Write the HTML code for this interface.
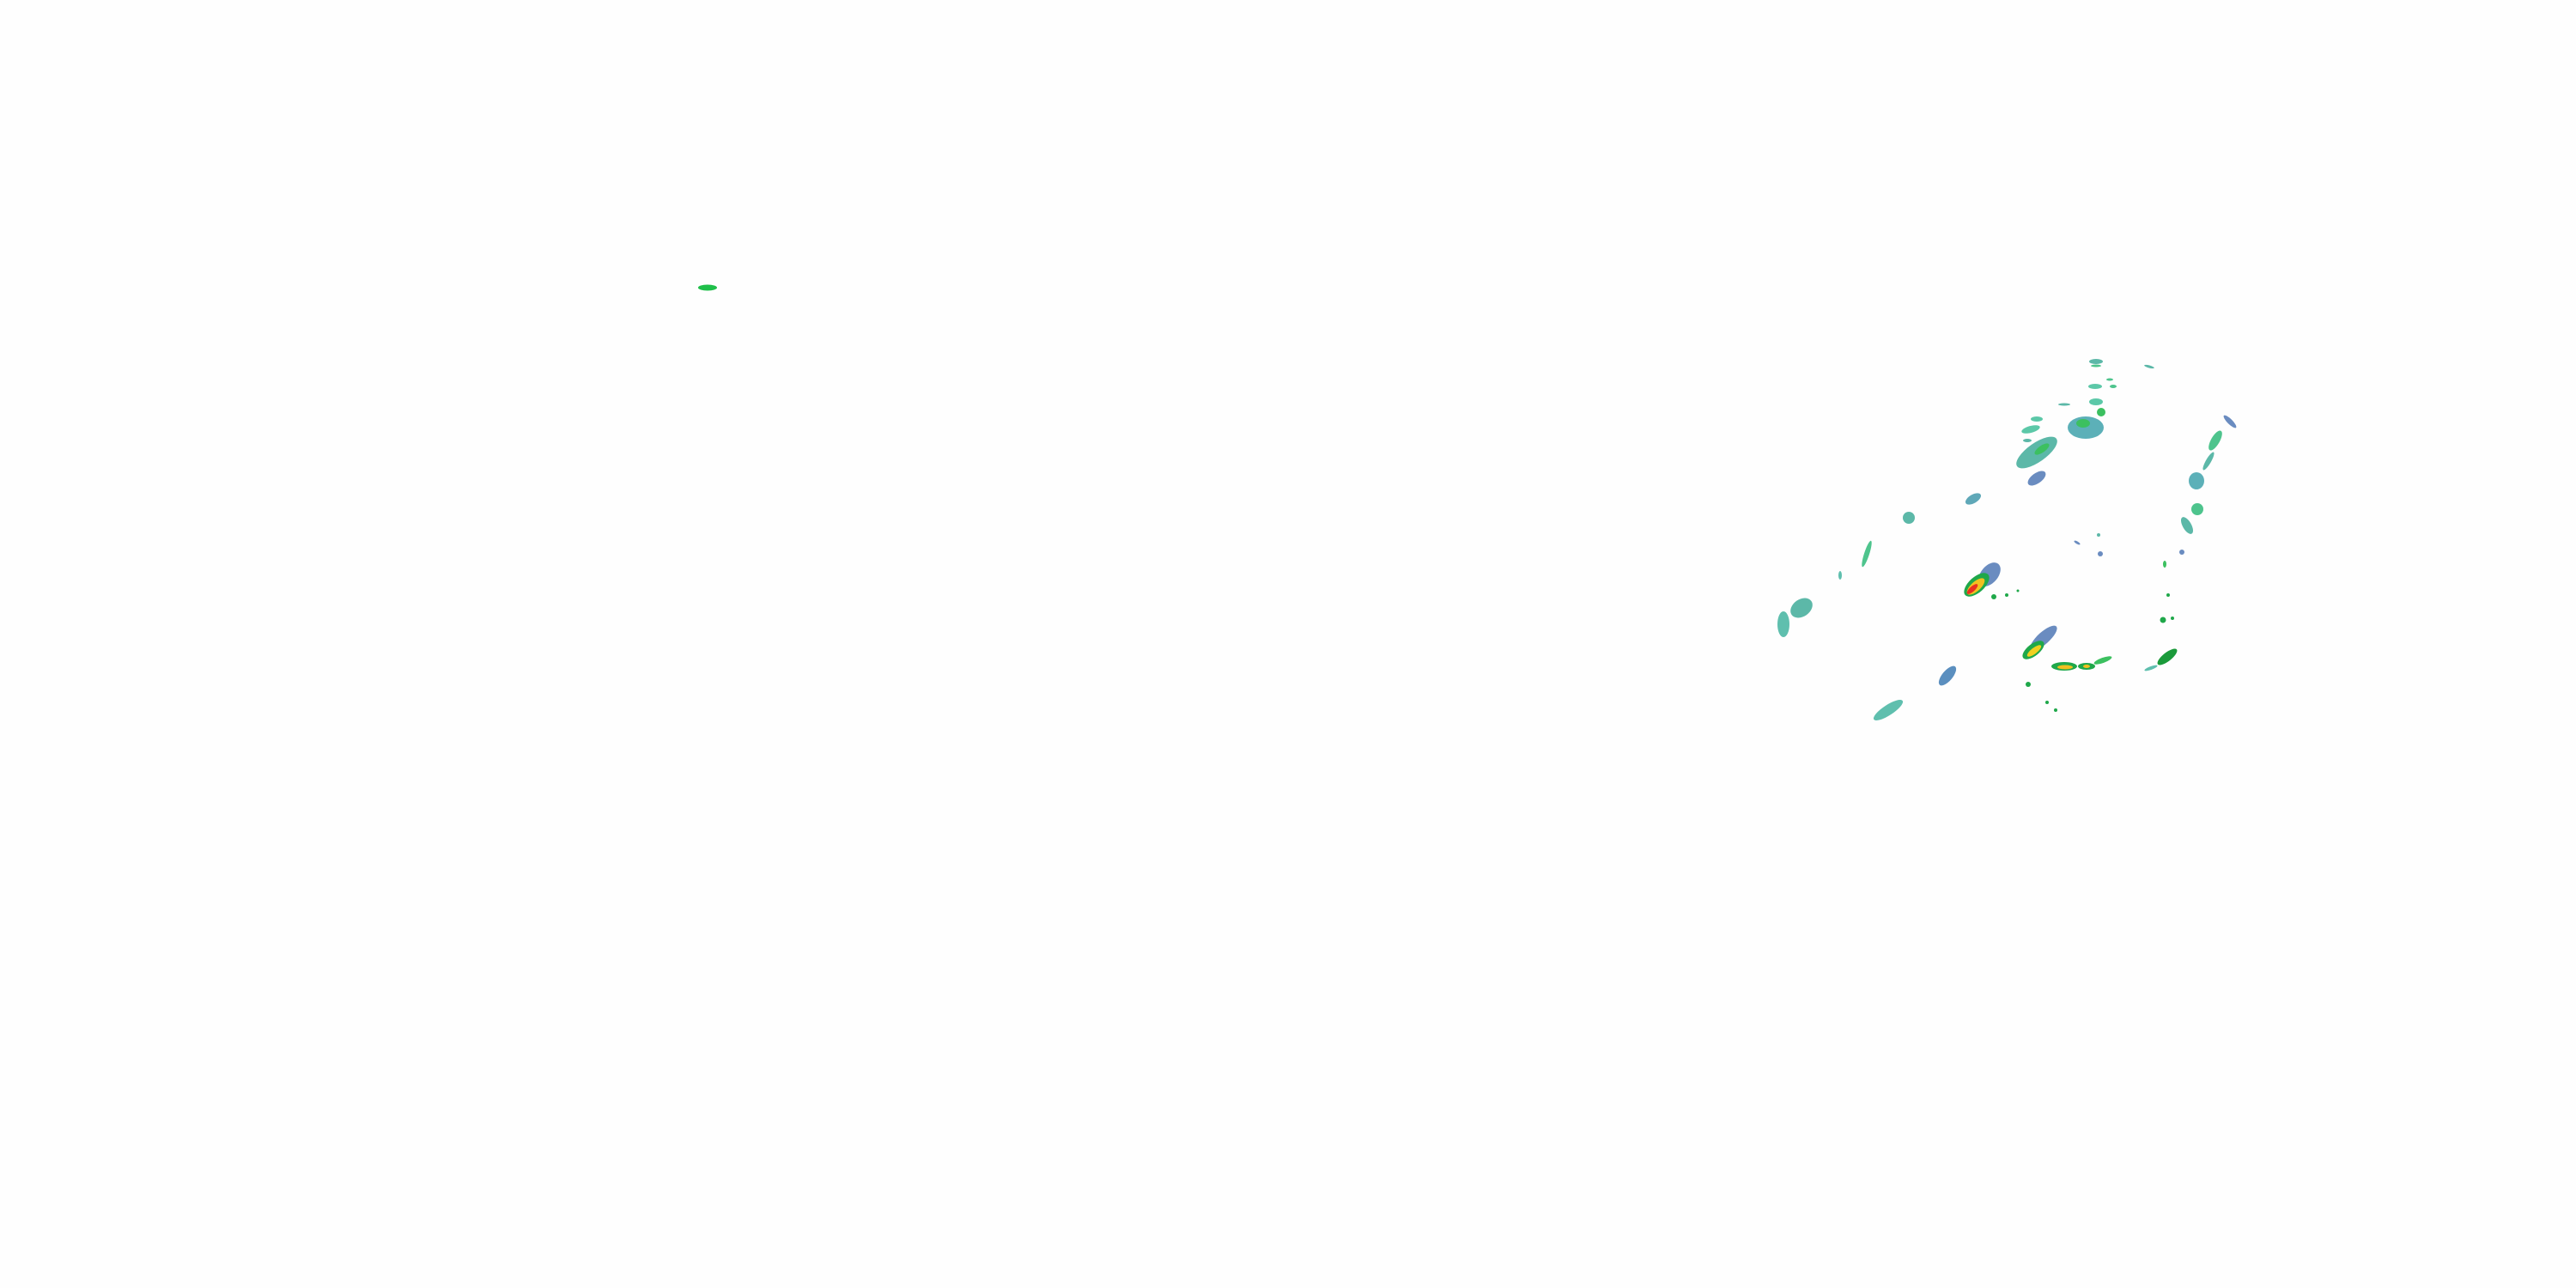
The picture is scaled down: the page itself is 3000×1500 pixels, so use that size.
<!DOCTYPE html>
<html><head><meta charset="utf-8"><style>html,body{margin:0;padding:0;background:#fff;width:3000px;height:1500px;overflow:hidden}</style></head>
<body>
<svg width="3000" height="1500" xmlns="http://www.w3.org/2000/svg">
<rect width="3000" height="1500" fill="#fefefe"/>
<ellipse cx="824" cy="335" rx="11" ry="3.5" fill="#1fbf4a"/>
<!-- left blobs -->
<ellipse cx="2077" cy="727" rx="7" ry="15" fill="#5fbfae"/>
<ellipse cx="2098" cy="708" rx="14" ry="10" fill="#5cb8a8" transform="rotate(-35 2098 708)"/>
<ellipse cx="2174" cy="645" rx="3" ry="16" fill="#4ec48d" transform="rotate(18 2174 645)"/>
<ellipse cx="2143" cy="670" rx="2" ry="5" fill="#5fbfae"/>
<ellipse cx="2223" cy="603" rx="7" ry="7" fill="#5cb8a8"/>
<ellipse cx="2298" cy="581" rx="10" ry="5" fill="#5fa8b8" transform="rotate(-30 2298 581)"/>
<ellipse cx="2268" cy="787" rx="6" ry="14" fill="#5b8fbf" transform="rotate(40 2268 787)"/>
<ellipse cx="2199" cy="827" rx="6" ry="20" fill="#5fbfae" transform="rotate(57 2199 827)"/>
<!-- red cell -->
<ellipse cx="2317" cy="669" rx="10" ry="16" fill="#6a8cc0" transform="rotate(40 2317 669)"/>
<ellipse cx="2302" cy="681" rx="9" ry="18" fill="#1fa84a" transform="rotate(48 2302 681)"/>
<ellipse cx="2301" cy="683" rx="5.5" ry="13" fill="#f0c020" transform="rotate(48 2301 683)"/>
<ellipse cx="2297" cy="686" rx="3" ry="8" fill="#e83020" transform="rotate(48 2297 686)"/>
<circle cx="2322" cy="695" r="3" fill="#1fa84a"/><circle cx="2337" cy="693" r="2" fill="#1fa84a"/><circle cx="2350" cy="688" r="1.5" fill="#1fa84a"/>
<!-- yellow cell -->
<ellipse cx="2380" cy="743" rx="7" ry="20" fill="#6a8cc0" transform="rotate(48 2380 743)"/>
<ellipse cx="2368" cy="757" rx="7" ry="15" fill="#1fa84a" transform="rotate(52 2368 757)"/>
<ellipse cx="2369" cy="758" rx="3.5" ry="10" fill="#f0d020" transform="rotate(52 2369 758)"/>
<!-- line -->
<ellipse cx="2404" cy="776" rx="15" ry="5" fill="#1fa84a"/>
<ellipse cx="2405" cy="777" rx="9" ry="2.5" fill="#f0c020"/>
<ellipse cx="2430" cy="776" rx="10" ry="4" fill="#1fa84a"/>
<ellipse cx="2430" cy="776" rx="4" ry="2" fill="#f0c020"/>
<ellipse cx="2449" cy="769" rx="11" ry="3" fill="#3cc060" transform="rotate(-20 2449 769)"/>
<circle cx="2362" cy="797" r="3" fill="#1fa84a"/>
<circle cx="2384" cy="818" r="2" fill="#1fa84a"/>
<circle cx="2394" cy="827" r="2" fill="#1fa84a"/>
<!-- right green -->
<ellipse cx="2524" cy="765" rx="5" ry="14" fill="#1a9a3a" transform="rotate(52 2524 765)"/>
<ellipse cx="2505" cy="778" rx="8" ry="2" fill="#5fbfae" transform="rotate(-20 2505 778)"/>
<circle cx="2519" cy="722" r="3.5" fill="#1fa84a"/><circle cx="2530" cy="720" r="2" fill="#1fa84a"/>
<circle cx="2525" cy="693" r="2" fill="#1fa84a"/><ellipse cx="2521" cy="657" rx="2" ry="4" fill="#3cc060"/>
<circle cx="2541" cy="643" r="3" fill="#6a8cc0"/>
<circle cx="2446" cy="645" r="3" fill="#6a8cc0"/>
<circle cx="2444" cy="623" r="2" fill="#5cb8a8"/>
<ellipse cx="2419" cy="632" rx="4" ry="1.5" fill="#6a8cc0" transform="rotate(30 2419 632)"/>
<!-- upper clusters -->
<ellipse cx="2372" cy="527" rx="28" ry="11" fill="#5cb8a8" transform="rotate(-35 2372 527)"/>
<ellipse cx="2378" cy="523" rx="10" ry="4" fill="#3cc060" transform="rotate(-35 2378 523)"/>
<ellipse cx="2372" cy="557" rx="12" ry="6" fill="#6a8cc0" transform="rotate(-35 2372 557)"/>
<ellipse cx="2365" cy="500" rx="11" ry="4" fill="#5cc8a8" transform="rotate(-15 2365 500)"/>
<ellipse cx="2372" cy="488" rx="7" ry="3" fill="#5cc8a8"/>
<ellipse cx="2361" cy="513" rx="5" ry="2" fill="#5cb8a8"/>
<ellipse cx="2429" cy="498" rx="21" ry="13" fill="#5cb0b8"/>
<ellipse cx="2426" cy="493" rx="8" ry="5" fill="#3cc060"/>
<ellipse cx="2447" cy="480" rx="5" ry="5" fill="#3cc060"/>
<ellipse cx="2441" cy="468" rx="8" ry="4" fill="#5cc8a8"/>
<ellipse cx="2440" cy="450" rx="8" ry="3" fill="#5cc8a8"/>
<ellipse cx="2441" cy="421" rx="8" ry="3" fill="#5cb8a8"/>
<ellipse cx="2441" cy="426" rx="6" ry="1.5" fill="#4ec48d"/>
<ellipse cx="2503" cy="427" rx="6" ry="1.5" fill="#5cb8a8" transform="rotate(15 2503 427)"/>
<ellipse cx="2461" cy="450" rx="4" ry="2" fill="#4ec48d"/>
<ellipse cx="2457" cy="442" rx="4" ry="1.5" fill="#4ec48d"/>
<ellipse cx="2404" cy="471" rx="7" ry="1.5" fill="#5cb8a8"/>
<!-- right arc -->
<ellipse cx="2597" cy="491" rx="3" ry="10" fill="#6a8cc0" transform="rotate(-45 2597 491)"/>
<ellipse cx="2580" cy="513" rx="5" ry="13" fill="#4ec48d" transform="rotate(30 2580 513)"/>
<ellipse cx="2572" cy="537" rx="3" ry="12" fill="#5cb8a8" transform="rotate(30 2572 537)"/>
<ellipse cx="2558" cy="560" rx="9" ry="10" fill="#5cb0b8"/>
<ellipse cx="2559" cy="593" rx="7" ry="7" fill="#4ec48d"/>
<ellipse cx="2547" cy="612" rx="5" ry="11" fill="#5cb8a8" transform="rotate(-30 2547 612)"/>
</svg>
</body></html>
